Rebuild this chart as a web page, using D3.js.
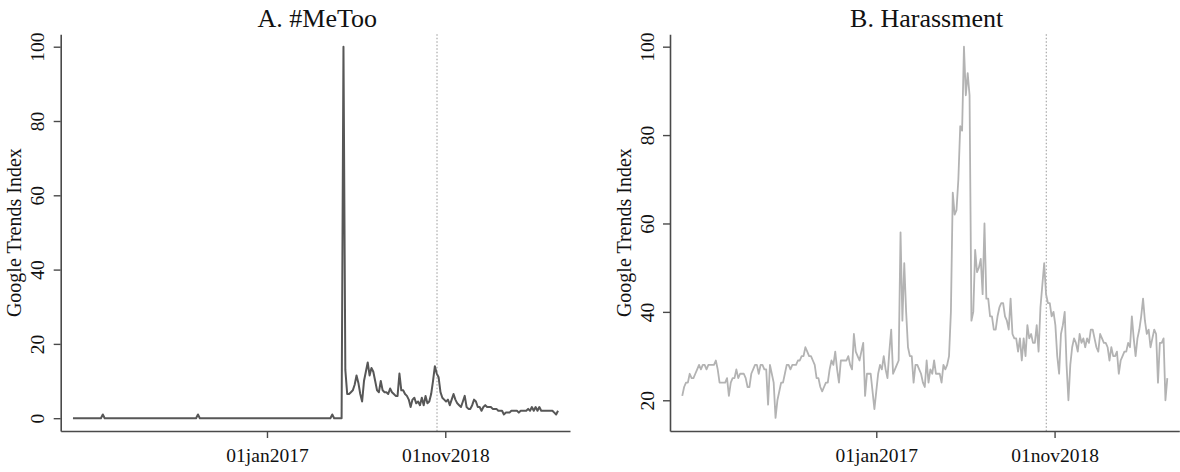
<!DOCTYPE html>
<html lang="en">
  <head>
    <meta charset="utf-8">
    <title>Google Trends: #MeToo and Harassment</title>
    <script src="https://d3js.org/d3.v7.min.js"></script>
    <style>
      body { margin: 0; background: white; }
      text { font-family: "Liberation Serif", "DejaVu Serif", serif; fill: #111; }
    </style>
  </head>
  <body>
    <script>

      // weekly Google Trends, first week 04jan2015, last week 29dec2019
      var firstWeek = "2015-01-04";
      var eventDate = "2018-10-01";
      var tickDates = ["2017-01-01", "2018-11-01"];
      var yTicks = [0, 20, 40, 60, 80, 100];
      var titles = ["A. #MeToo", "B. Harassment"];
      var yLabel = "Google Trends Index";

      var metoo = [
        0,0,0,0,0,0,0,0,0,0, 0,0,0,0,0,0,1,0,0,0,
        0,0,0,0,0,0,0,0,0,0, 0,0,0,0,0,0,0,0,0,0,
        0,0,0,0,0,0,0,0,0,0, 0,0,0,0,0,0,0,0,0,0,
        0,0,0,0,0,0,0,1,0,0, 0,0,0,0,0,0,0,0,0,0,
        0,0,0,0,0,0,0,0,0,0, 0,0,0,0,0,0,0,0,0,0,
        0,0,0,0,0,0,0,0,0,0, 0,0,0,0,0,0,0,0,0,0,
        0,0,0,0,0,0,0,0,0,0, 0,0,0,0,0,0,0,0,0,1,
        0,0,0,0,0,100,13,6.5,6.5,7,
        7.5,9,11.5,9.5,6.5,4.5,10,12.5,15,11.5,
        13.5,12.5,10,7.5,7,10,7.5,7,7,6.5,
        8,7,6.5,6,6,12,7.5,7.5,6.5,6,
        5,3,5,5.5,4,4.5,3.5,5.5,3.5,6,
        4,4.5,6.5,10,14,12,11,7,5.5,5,
        4.5,5,3.5,5,6.5,5,4,3.5,3,4.5,
        6,3,2.5,2.5,3.5,5,4.5,3,3,2,
        3,3.5,3,3,3,2.5,2.5,2.5,2,2,
        2,1,1.5,1.5,1.5,2,2,2,2,1.5,
        2,2,2,2,2.5,2,3,2,3,2,
        3,2,2,2,2,2,2,2,1.5,1,
        2
      ];

      var harassment = [
        21,23,24,24,26,25,25,26,27,28,
        27,28,28,27,28,28,28,28,29,27,
        24,24,24,24,25,21,24,25,25,27,
        25,26,26,26,25,23,23,26,27,28,
        28,26,28,28,27,27,19,28,26,24,
        16,20,22,24,24,26,28,28,27,28,
        28,28,29,29,30,30,32,31,30,30,
        29,28,25,25,23,22,23,24,24,27,
        29,28,31,27,24,29,29,29,29,30,
        28,27,35,31,30,29,31,33,21,26,
        26,26,22,18,22,26,28,27,30,27,
        25,31,36,26,27,28,29,58,38,51,
        40,32,30,30,24,28,28,27,26,24,
        23,29,24,27,26,29,26,26,26,24,
        28,27,28,30,40,67,62,63,70,82,
        81,100,89,94,89,38,40,54,49,50,
        52,44,60,43,43,39,39,36,36,39,
        41,42,42,39,38,36,43,35,34,34,
        31,34,29,34,30,37,34,35,33,33,
        37,31,41,46,51,44,42,42,39,40,
        37,30,26,35,37,40,28,20,28,32,
        34,33,31,35,33,34,32,34,33,36,
        36,34,32,31,35,34,33,33,32,29,
        32,30,30,31,26,29,30,31,31,33,
        32,39,34,30,34,36,39,43,38,35,
        36,32,34,36,35,24,33,33,34,20,
        25
      ];

      var w = 1180;
      var h = 472;
      var plotW = 509.3;
      var plotTop = 34.3, plotBottom = 431;
      var plotH = plotBottom - plotTop;
      var parseDate = d3.utcParse("%Y-%m-%d");
      var start = parseDate(firstWeek);

      var panels = [
        {left: 60.7, values: metoo, yDomain: [-3.45, 103.34], color: "#575757", width: 2},
        {left: 670, values: harassment, yDomain: [13.05, 102.8], color: "#b3b3b3", width: 1.8}
      ];

      var svg = d3.select("body")
        .append("svg")
          .attr("width", w)
          .attr("height", h);

      var fmt = d3.utcFormat("%d%b%Y");

      panels.forEach(function(p, k) {
        var xScale = d3.scaleUtc()
            .domain([parseDate("2014-11-19"), parseDate("2020-02-12")])
            .range([0, plotW]);
        var yScale = d3.scaleLinear()
            .domain(p.yDomain)
            .range([plotH, 0]);

        var g = svg.append("g")
            .attr("transform", `translate(${p.left}, ${plotTop})`);

        var data = p.values.map(function(v, i) {
          return {date: d3.utcDay.offset(start, 7 * i), value: v};
        });

        // dotted reference line
        g.append("line")
            .attr("x1", xScale(parseDate(eventDate)))
            .attr("x2", xScale(parseDate(eventDate)))
            .attr("y1", 0)
            .attr("y2", plotH)
            .attr("stroke", "#a8a8a8")
            .attr("stroke-width", 1.2)
            .attr("stroke-dasharray", "1.5,2");

        var line = d3.line()
            .x(d => xScale(d.date))
            .y(d => yScale(d.value));

        g.append("path")
            .datum(data)
            .attr("fill", "none")
            .attr("stroke", p.color)
            .attr("stroke-width", p.width)
            .attr("stroke-linejoin", "round")
            .attr("d", line);

        var xAxis = d3.axisBottom(xScale)
            .tickValues(tickDates.map(parseDate))
            .tickFormat(d => fmt(d).toLowerCase())
            .tickSize(7)
            .tickSizeOuter(0)
            .tickPadding(10);

        var gx = g.append("g")
            .attr("transform", `translate(0, ${plotH})`)
            .call(xAxis);

        // only ticks that fall inside this panel's range
        var yAxis = d3.axisLeft(yScale)
            .tickValues(yTicks.filter(t => t >= p.yDomain[0] && t <= p.yDomain[1]))
            .tickSize(7)
            .tickSizeOuter(0);

        var gy = g.append("g").call(yAxis);

        gy.selectAll(".tick text")
            .attr("x", 0)
            .attr("y", 0)
            .attr("dy", 0)
            .attr("text-anchor", "middle")
            .attr("transform", `translate(-16.4, 0) rotate(-90)`);

        [gx, gy].forEach(function(a) {
          a.select(".domain").attr("stroke", "#4a4a4a").attr("stroke-width", 1.6);
          a.selectAll(".tick line").attr("stroke", "#4a4a4a").attr("stroke-width", 1.4);
          a.selectAll(".tick text")
            .attr("font-family", "Liberation Serif, serif")
            .attr("font-size", "19.5px")
            .attr("fill", "#111");
        });

        g.append("text")
            .attr("transform", `translate(-39.5, ${plotH / 2}) rotate(-90)`)
            .attr("text-anchor", "middle")
            .attr("font-size", "20px")
            .text(yLabel);

        svg.append("text")
            .attr("x", p.left + plotW / 2 + 2)
            .attr("y", 27)
            .attr("text-anchor", "middle")
            .attr("font-size", "26px")
            .text(titles[k]);
      });

    </script>
  </body>
</html>
